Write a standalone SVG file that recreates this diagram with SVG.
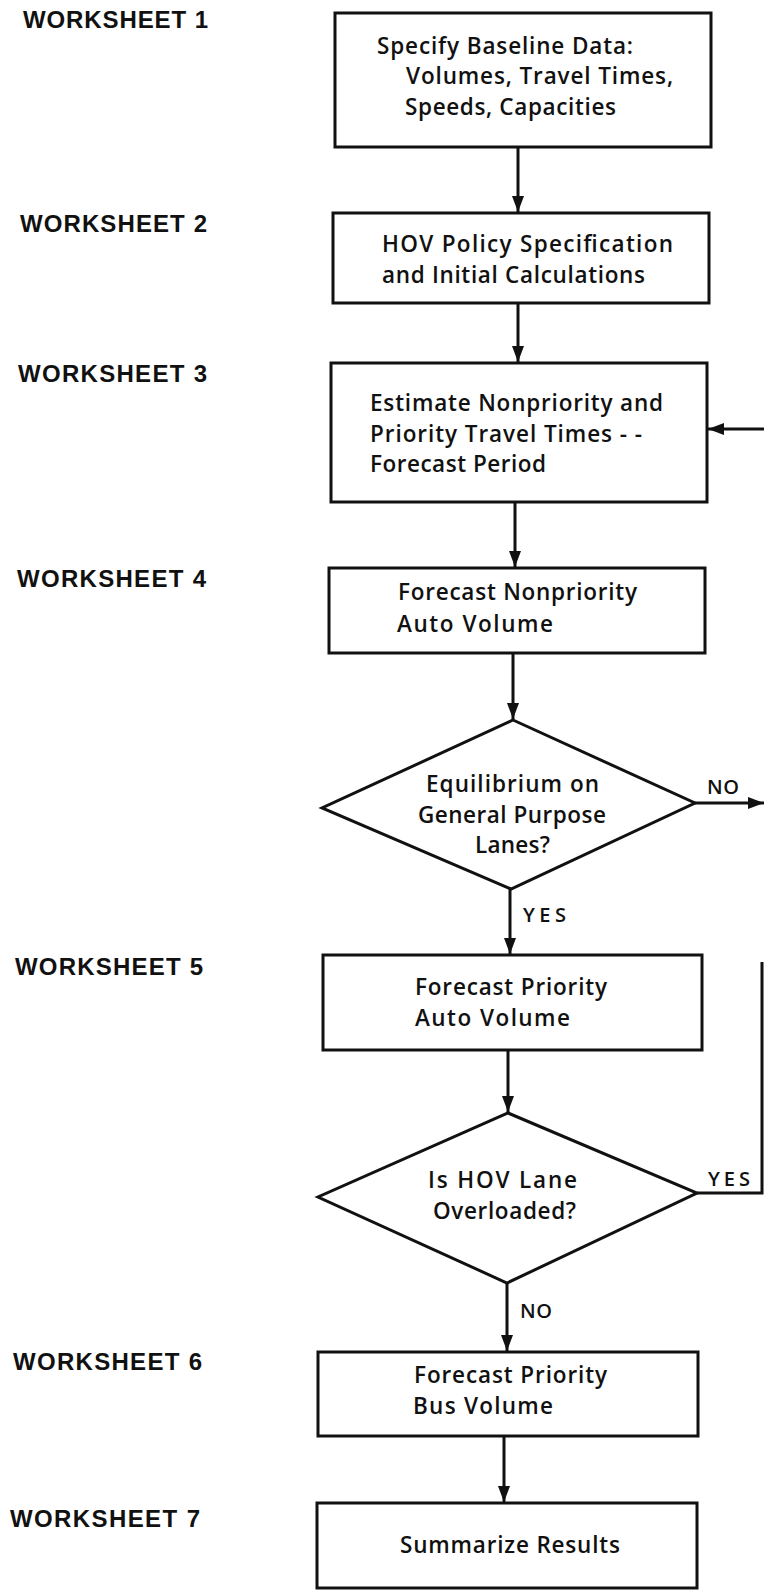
<svg xmlns="http://www.w3.org/2000/svg" width="764" height="1591" viewBox="0 0 764 1591">
<style>
.bg{fill:#fff}
.box{fill:#fff;stroke:#111;stroke-width:3}
.ws{font-family:"Liberation Sans",Arial,sans-serif;font-weight:bold;font-size:24px;fill:#111}
.t{font-family:"Open Sans","Liberation Sans",sans-serif;font-weight:600;font-size:22.5px;fill:#111}
.lbl{font-family:"Open Sans","Liberation Sans",sans-serif;font-weight:600;font-size:20px;fill:#111}
.c{fill:none;stroke:#111;stroke-width:3}
</style>
<defs>
<marker id="ah" viewBox="0 0 16 12" markerWidth="16" markerHeight="12" refX="16" refY="6" markerUnits="userSpaceOnUse" orient="auto">
<path d="M0,0 L16,6 L0,12 z" fill="#111"/>
</marker>
</defs>
<rect class="bg" x="0" y="0" width="764" height="1591"/>

<g id="worksheet-labels">
<text class="ws" x="23" y="28" textLength="185" lengthAdjust="spacing">WORKSHEET 1</text>
<text class="ws" x="20" y="232" textLength="187" lengthAdjust="spacing">WORKSHEET 2</text>
<text class="ws" x="18" y="382" textLength="189" lengthAdjust="spacing">WORKSHEET 3</text>
<text class="ws" x="17" y="587" textLength="189" lengthAdjust="spacing">WORKSHEET 4</text>
<text class="ws" x="15" y="975" textLength="188" lengthAdjust="spacing">WORKSHEET 5</text>
<text class="ws" x="13" y="1370" textLength="189" lengthAdjust="spacing">WORKSHEET 6</text>
<text class="ws" x="10" y="1527" textLength="190" lengthAdjust="spacing">WORKSHEET 7</text>
</g>

<g id="connectors">
<line class="c" x1="518" y1="147" x2="518" y2="212" marker-end="url(#ah)"/>
<line class="c" x1="518" y1="303" x2="518" y2="362" marker-end="url(#ah)"/>
<line class="c" x1="515" y1="502" x2="515" y2="567" marker-end="url(#ah)"/>
<line class="c" x1="513" y1="653" x2="513" y2="719" marker-end="url(#ah)"/>
<line class="c" x1="510" y1="889" x2="510" y2="954" marker-end="url(#ah)"/>
<line class="c" x1="508" y1="1050" x2="508" y2="1112" marker-end="url(#ah)"/>
<line class="c" x1="507" y1="1283" x2="507" y2="1351" marker-end="url(#ah)"/>
<line class="c" x1="504" y1="1436" x2="504" y2="1502" marker-end="url(#ah)"/>
<line class="c" x1="695" y1="803" x2="764" y2="803" marker-end="url(#ah)"/>
<line class="c" x1="764" y1="429" x2="708" y2="429" marker-end="url(#ah)"/>
<polyline class="c" points="697,1193 762,1193 762,962"/>
<text class="lbl" x="707" y="794" textLength="32" lengthAdjust="spacing">NO</text>
<text class="lbl" x="523" y="922" textLength="43" lengthAdjust="spacing">YES</text>
<text class="lbl" x="708" y="1186" textLength="42" lengthAdjust="spacing">YES</text>
<text class="lbl" x="520" y="1318" textLength="32" lengthAdjust="spacing">NO</text>
</g>

<g id="n1">
<rect class="box" x="335" y="13" width="376" height="134"/>
<text class="t" x="377" y="54" textLength="256" lengthAdjust="spacing">Specify Baseline Data:</text>
<text class="t" x="406" y="84" textLength="267" lengthAdjust="spacing">Volumes, Travel Times,</text>
<text class="t" x="405" y="115" textLength="211" lengthAdjust="spacing">Speeds, Capacities</text>
</g>

<g id="n2">
<rect class="box" x="333" y="213" width="376" height="90"/>
<text class="t" x="382" y="252" textLength="291" lengthAdjust="spacing">HOV Policy Specification</text>
<text class="t" x="382" y="283" textLength="263" lengthAdjust="spacing">and Initial Calculations</text>
</g>

<g id="n3">
<rect class="box" x="331" y="363" width="376" height="139"/>
<text class="t" x="370" y="411" textLength="293" lengthAdjust="spacing">Estimate Nonpriority and</text>
<text class="t" x="370" y="442" textLength="272" lengthAdjust="spacing">Priority Travel Times - -</text>
<text class="t" x="370" y="472" textLength="176" lengthAdjust="spacing">Forecast Period</text>
</g>

<g id="n4">
<rect class="box" x="329" y="568" width="376" height="85"/>
<text class="t" x="398" y="600" textLength="239" lengthAdjust="spacing">Forecast Nonpriority</text>
<text class="t" x="397" y="632" textLength="156" lengthAdjust="spacing">Auto Volume</text>
</g>

<g id="d1">
<polygon class="box" points="513,720 695,803 511,889 322,808"/>
<text class="t" x="426" y="792" textLength="173" lengthAdjust="spacing">Equilibrium on</text>
<text class="t" x="418" y="823" textLength="188" lengthAdjust="spacing">General Purpose</text>
<text class="t" x="475" y="853" textLength="75" lengthAdjust="spacing">Lanes?</text>
</g>

<g id="n5">
<rect class="box" x="323" y="955" width="379" height="95"/>
<text class="t" x="415" y="995" textLength="192" lengthAdjust="spacing">Forecast Priority</text>
<text class="t" x="415" y="1026" textLength="155" lengthAdjust="spacing">Auto Volume</text>
</g>

<g id="d2">
<polygon class="box" points="508,1113 697,1193 507,1283 318,1197"/>
<text class="t" x="428" y="1188" textLength="149" lengthAdjust="spacing">Is HOV Lane</text>
<text class="t" x="433" y="1219" textLength="143" lengthAdjust="spacing">Overloaded?</text>
</g>

<g id="n6">
<rect class="box" x="318" y="1352" width="380" height="84"/>
<text class="t" x="414" y="1383" textLength="193" lengthAdjust="spacing">Forecast Priority</text>
<text class="t" x="413" y="1414" textLength="140" lengthAdjust="spacing">Bus Volume</text>
</g>

<g id="n7">
<rect class="box" x="317" y="1503" width="380" height="85"/>
<text class="t" x="400" y="1553" textLength="220" lengthAdjust="spacing">Summarize Results</text>
</g>
</svg>
